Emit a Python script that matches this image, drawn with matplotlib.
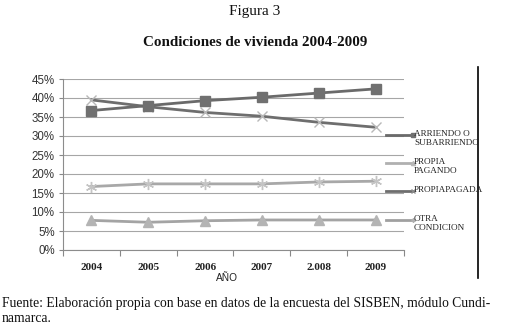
import matplotlib

matplotlib.use("Agg")
import matplotlib.pyplot as plt
from matplotlib.lines import Line2D

years = ["2004", "2005", "2006", "2007", "2.008", "2009"]
arriendo = [36.7, 38.0, 39.3, 40.2, 41.3, 42.4]
propia_pagada = [39.5, 37.7, 36.2, 35.2, 33.6, 32.3]
otra_condicion = [16.7, 17.4, 17.4, 17.4, 17.9, 18.1]
propia_pagando = [7.8, 7.3, 7.7, 7.9, 7.9, 7.9]

legend_labels = ["ARRIENDO O\nSUBARRIENDO", "PROPIA\nPAGANDO", "PROPIAPAGADA", "OTRA\nCONDICION"]

SERIF = "Liberation Serif"
SANS = "Liberation Sans"

fig = plt.figure(figsize=(5.10, 3.32), dpi=100)
ax = fig.add_axes([63 / 510, 1 - 250 / 332, 341 / 510, 171 / 332])

x = list(range(len(years)))
ax.plot(x, arriendo, color="#6a6a6a", lw=2.0, marker="s", ms=6.5,
        mfc="#707070", mec="#707070", zorder=4)
ax.plot(x, propia_pagada, color="#6e6e6e", lw=2.0, marker="x", ms=7,
        mec="#b8b8b8", mew=1.0, zorder=3)
ax.plot(x, otra_condicion, color="#a8a8a8", lw=2.0, marker=(6, 2, 0), ms=8,
        mec="#c4c4c4", mew=1.0, zorder=3)
ax.plot(x, propia_pagando, color="#a4a4a4", lw=2.0, marker="^", ms=7,
        mfc="#b4b4b4", mec="#b4b4b4", zorder=3)

ax.set_xlim(-0.5, len(years) - 0.5)
ax.set_ylim(0, 45)
ax.set_yticks(range(0, 46, 5))
ax.set_yticklabels([f"{v}%" for v in range(0, 46, 5)], fontfamily=SANS,
                   fontsize=8.3, color="#333333")
ax.set_xticks(x)
ax.set_xticklabels(years, fontfamily=SERIF, fontsize=8, fontweight="bold",
                   color="#222222")
ax.set_xticks([i - 0.5 for i in range(len(years) + 1)], minor=True)
ax.tick_params(axis="x", which="major", length=0, pad=9)
ax.tick_params(axis="x", which="minor", length=4, color="#888888", width=0.8)
ax.tick_params(axis="y", length=3, color="#888888", width=0.8, pad=3)

ax.grid(axis="y", color="#a6a6a6", lw=0.8)
ax.set_axisbelow(True)
for side in ("top", "right"):
    ax.spines[side].set_visible(False)
for side in ("left", "bottom"):
    ax.spines[side].set_color("#8c8c8c")
    ax.spines[side].set_linewidth(0.8)

fig.text(227 / 510, 1 - 278 / 332, "AÑO", fontfamily=SANS, fontsize=7.3,
         ha="center", va="center", color="#222222")

# legend drawn by hand to keep the uneven spacing of the original;
# the key line sits level with the first line of each label
leg_styles = [
    dict(color="#6a6a6a", marker="s", ms=3, mfc="#707070", mec="#707070"),
    dict(color="#b0b0b0", marker="^", ms=3, mfc="#b8b8b8", mec="#b8b8b8"),
    dict(color="#6e6e6e", marker="x", ms=3, mec="#8a8a8a"),
    dict(color="#a0a0a0", marker=(6, 2, 0), ms=3, mec="#b0b0b0"),
]
leg_y = [135, 163, 191, 220]
for y, lab, st in zip(leg_y, legend_labels, leg_styles):
    yf = 1 - y / 332
    fig.add_artist(Line2D([386 / 510, 413 / 510], [yf, yf], lw=2.0,
                          markevery=[1], **st))
    fig.text(414 / 510, 1 - (y - 5) / 332, lab, fontfamily=SERIF, fontsize=6.6,
             ha="left", va="top", color="#222222", linespacing=1.2)

fig.add_artist(Line2D([478 / 510, 478 / 510], [1 - 67 / 332, 1 - 278 / 332],
                      color="black", lw=1.2))

fig.text(0.5, 1 - 11 / 332, "Figura 3", fontfamily=SERIF, fontsize=11,
         ha="center", va="center", color="#111111")
fig.text(0.5, 1 - 43 / 332, "Condiciones de vivienda 2004-2009", fontfamily=SERIF,
         fontsize=10.8, fontweight="bold", ha="center", va="center", color="#111111")
fig.text(2 / 510, 1 - 303 / 332,
         "Fuente: Elaboración propia con base en datos de la encuesta del SISBEN, módulo Cundi-",
         fontfamily=SERIF, fontsize=9.8, ha="left", va="center", color="#111111")
fig.text(2 / 510, 1 - 318 / 332, "namarca.", fontfamily=SERIF, fontsize=9.8,
         ha="left", va="center", color="#111111")

fig.savefig("out.png", dpi=100, facecolor="white")
